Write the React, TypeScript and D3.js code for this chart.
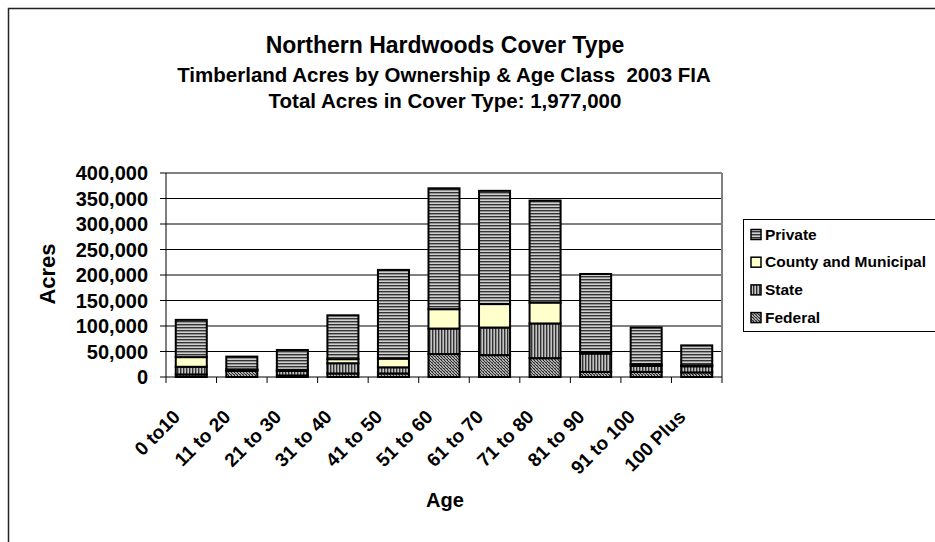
import React from 'react';
import * as d3 from 'd3';

const categories = ['0 to10', '11 to 20', '21 to 30', '31 to 40', '41 to 50', '51 to 60', '61 to 70', '71 to 80', '81 to 90', '91 to 100', '100 Plus'];
const federal = [5000, 12000, 3000, 7000, 7000, 45000, 43000, 37000, 10000, 10000, 9000];
const state = [15000, 2000, 9000, 20000, 12000, 50000, 54000, 68000, 36000, 12000, 12000];
const county = [19000, 1000, 2000, 8000, 17000, 38000, 46000, 41000, 3000, 3000, 2000];
const privateOwn = [73000, 25000, 39000, 86000, 174000, 237000, 222000, 200000, 153000, 72000, 39000];
const seriesNames = ['Federal', 'State', 'County and Municipal', 'Private'];
const legendOrder = ['Private', 'County and Municipal', 'State', 'Federal'];
const yTicks = [0, 50000, 100000, 150000, 200000, 250000, 300000, 350000, 400000];

const FONT = '"Liberation Sans", Arial, sans-serif';
const fills: Record<string, string> = {
  'Federal': 'url(#pFed)',
  'State': 'url(#pState)',
  'County and Municipal': '#FFFFCC',
  'Private': 'url(#pPriv)',
};

export default function App() {
  const left = 166, right = 722, top = 173, bottom = 377;
  const x = d3.scaleBand<string>().domain(categories).range([left, right]).paddingInner(0.386).paddingOuter(0.193);
  const y = d3.scaleLinear().domain([0, 400000]).range([bottom, top]);
  const rows = categories.map((c, i) => ({
    cat: c,
    'Federal': federal[i],
    'State': state[i],
    'County and Municipal': county[i],
    'Private': privateOwn[i],
  }));
  const stack = d3.stack<any>().keys(seriesNames)(rows);
  const fmt = d3.format(',');
  const step = x.step();
  const boundaries = d3.range(categories.length + 1).map(i => left + i * step);

  return (
    <svg width={935} height={542} style={{ position: 'fixed', left: 0, top: 0, background: '#fff' }} fontFamily={FONT} fontWeight="bold">
      <defs>
        <pattern id="pPriv" patternUnits="userSpaceOnUse" width={4} height={3}>
          <rect width={4} height={3} fill="#d0d0d0" />
          <rect width={4} height={1.4} fill="#333" />
        </pattern>
        <pattern id="pState" patternUnits="userSpaceOnUse" width={3} height={4}>
          <rect width={3} height={4} fill="#c4c4c4" />
          <rect width={1.4} height={4} fill="#333" />
        </pattern>
        <pattern id="pFed" patternUnits="userSpaceOnUse" width={3} height={3}>
          <rect width={3} height={3} fill="#e8e8e8" />
          <path d="M0,0 L3,3 M-1,2 L1,4 M2,-1 L4,1" stroke="#222" strokeWidth={1.1} />
          <rect x={0} y={2} width={1} height={1} fill="#666" />
        </pattern>
      </defs>
      <rect x={0} y={0} width={935} height={542} fill="#fff" />
      <rect x={8.5} y={8.5} width={1200} height={1200} fill="none" stroke="#222" strokeWidth={1.5} />

      <text x={445} y={53} textAnchor="middle" fontSize={23}>Northern Hardwoods Cover Type</text>
      <text x={444} y={82} textAnchor="middle" fontSize={20.5} style={{ whiteSpace: 'pre' }}>{'Timberland Acres by Ownership & Age Class  2003 FIA'}</text>
      <text x={445} y={108} textAnchor="middle" fontSize={20.5}>Total Acres in Cover Type: 1,977,000</text>

      {yTicks.filter(t => t > 0 && t < 400000).map(t => (
        <line key={'g' + t} x1={left} x2={right} y1={y(t)} y2={y(t)} stroke="#000" strokeWidth={1} />
      ))}
      <line x1={left} x2={right} y1={top} y2={top} stroke="#808080" strokeWidth={2} />
      <line x1={right} x2={right} y1={top} y2={bottom} stroke="#808080" strokeWidth={2} />

      {stack.map(s => (
        <g key={s.key}>
          {s.map((d: any, i: number) => (
            <rect key={i} x={x(categories[i])} width={x.bandwidth()} y={y(d[1])} height={y(d[0]) - y(d[1])}
              fill={fills[s.key]} stroke="#000" strokeWidth={2} />
          ))}
        </g>
      ))}

      <line x1={left} x2={left} y1={top} y2={bottom} stroke="#000" strokeWidth={1} />
      <line x1={left} x2={right} y1={bottom} y2={bottom} stroke="#000" strokeWidth={1} />
      {yTicks.map(t => (
        <g key={'t' + t}>
          <line x1={left - 6} x2={left} y1={y(t)} y2={y(t)} stroke="#000" />
          <text x={148} y={y(t) + 7} textAnchor="end" fontSize={20}>{fmt(t)}</text>
        </g>
      ))}
      {boundaries.map((b, i) => (
        <line key={'b' + i} x1={b} x2={b} y1={bottom} y2={bottom + 6} stroke="#000" />
      ))}
      {categories.map(c => {
        const cx = (x(c) as number) + x.bandwidth() / 2;
        return (
          <text key={c} transform={`translate(${cx - 10},${418}) rotate(-45)`} textAnchor="end" fontSize={19}>{c}</text>
        );
      })}

      <text transform="translate(55,274) rotate(-90)" textAnchor="middle" fontSize={22}>Acres</text>
      <text x={445} y={507} textAnchor="middle" fontSize={20}>Age</text>

      <rect x={743.5} y={219.5} width={300} height={112} fill="#fff" stroke="#000" strokeWidth={1} />
      {legendOrder.map((k, i) => (
        <g key={k}>
          <rect x={751} y={229.5 + i * 27.7} width={10} height={10} fill={fills[k]} stroke="#000" strokeWidth={1.5} />
          <text x={765} y={239.5 + i * 27.7} fontSize={15.5}>{k}</text>
        </g>
      ))}
    </svg>
  );
}
